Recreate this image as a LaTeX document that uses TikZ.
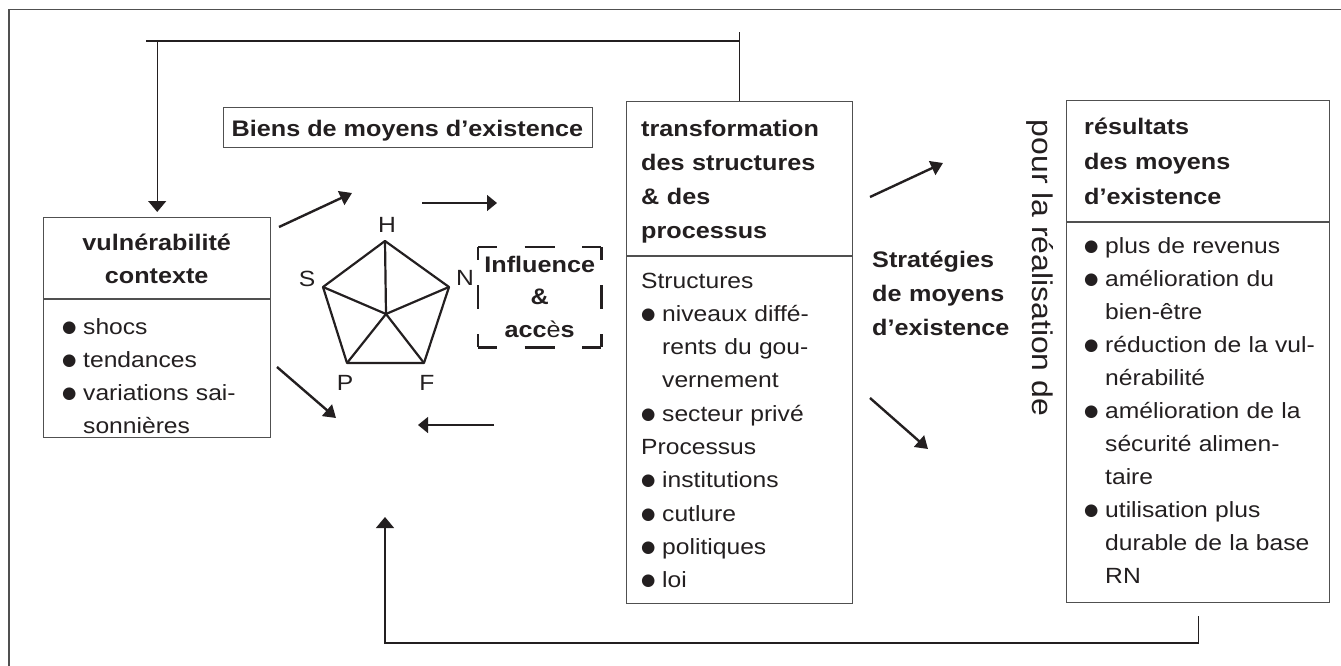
\documentclass[tikz,border=0pt]{standalone}
\usepackage{fontspec}
\setmainfont{Liberation Sans}[FakeStretch=1.12]
\newfontfamily\dotfont{DejaVu Sans}
\usetikzlibrary{arrows.meta}

\definecolor{ink}{RGB}{35,31,32}
\definecolor{rule}{RGB}{80,80,80}

\newcommand{\bul}{\makebox[21pt][l]{\raisebox{2pt}{\dotfont\fontsize{16.5}{16.5}\selectfont ●}}}
\newcommand{\ind}{\hspace*{21pt}}

\tikzset{
	box/.style={draw=rule, line width=1.4pt, inner sep=0pt, anchor=north west},
	cut/.style={draw=rule, line width=1.4pt},
	head/.style={inner sep=0pt, text=ink, font=\bfseries\fontsize{22.5}{34}\selectfont, align=left, text width=240pt},
	body/.style={inner sep=0pt, text=ink, font=\fontsize{22}{33.3}\selectfont, align=left, text width=240pt},
	label/.style={inner sep=0pt, text=ink, font=\fontsize{22}{22}\selectfont},
	link/.style={draw=ink, line width=1.4pt},
	flow/.style={draw=ink, line width=2.4pt, -{Triangle[length=12pt,width=15pt]}},
	thin flow/.style={draw=ink, line width=1.4pt, -{Triangle[length=10pt,width=16pt]}},
	penta/.style={draw=ink, line width=2.2pt, line join=round},
	hdash/.style={draw=ink, line width=2.8pt, dash pattern=on 19pt off 27.5pt on 30pt off 27.5pt on 19pt},
	vdash/.style={draw=ink, line width=2.8pt, dash pattern=on 13pt off 25pt on 24pt off 25pt on 13pt},
}

\begin{document}
\begin{tikzpicture}[x=1pt,y=1pt,yscale=-1,xscale=1]
	\useasboundingbox (0,0) rectangle (1341,666);
	\clip (0,0) rectangle (1341,666);
	
	%Shape: Rectangle (frame)
	\draw [draw=rule, line width=1.5pt] (9,9.5) rectangle (1400,720);
	
	%Shape: Rectangle (vulnerabilite)
	\node [box, minimum width=227pt, minimum height=220pt] (vul) at (43,217) {};
	\draw [cut] (43,299) -- (270,299);
	% Text Node
	\node [head, font=\bfseries\fontsize{22.5}{33}\selectfont, text width=227pt, align=center, anchor=base west] (vulhead) at (43,250) {vulnérabilité\\contexte};
	% Text Node
	\node [body, anchor=base west] (vulbody) at (62,334) {\bul shocs\\\bul tendances\\\bul variations sai-\\\ind sonnières};
	
	%Shape: Rectangle (biens)
	\node [box, minimum width=369pt, minimum height=40pt] (biens) at (223,107) {};
	% Text Node
	\node [label, font=\bfseries\fontsize{22.5}{22}\selectfont, anchor=base] (bienshead) at (407.5,136) {Biens de moyens d’existence};
	
	%Shape: Pentagon
	\coordinate (H) at (385,241);
	\coordinate (N) at (449,287);
	\coordinate (F) at (424,363);
	\coordinate (P) at (347,363);
	\coordinate (S) at (323,287);
	\coordinate (O) at (386,314);
	\draw [penta] (H) -- (N) -- (F) -- (P) -- (S) -- cycle;
	\foreach \v in {H,N,F,P,S}
		\draw [penta] (O) -- (\v);
	% Text Node
	\node [label] (labH) at (387,225) {H};
	\node [label] (labS) at (307,279) {S};
	\node [label] (labN) at (465,278) {N};
	\node [label] (labP) at (345,383) {P};
	\node [label] (labF) at (427,383) {F};
	
	%Shape: Dashed Rectangle (influence)
	\node [minimum width=123pt, minimum height=100pt, inner sep=0pt, anchor=north west] (infl) at (478,247) {};
	\draw [hdash] (infl.north west) -- (infl.north east);
	\draw [hdash] (infl.south west) -- (infl.south east);
	\draw [vdash] (infl.north west) -- (infl.south west);
	\draw [vdash] (infl.north east) -- (infl.south east);
	% Text Node
	\node [head, font=\bfseries\fontsize{22.5}{32.5}\selectfont, text width=123pt, align=center, anchor=base west] (infltext) at (478,272) {Influence\\\&\\acc{\mdseries è}s};
	
	%Shape: Rectangle (transformation)
	\node [box, minimum width=226pt, minimum height=502pt] (tr) at (626,101) {};
	\draw [cut] (626,256) -- (852,256);
	% Text Node
	\node [head, anchor=base west] (trhead) at (641,137) {transformation\\des structures\\\& des\\processus};
	% Text Node
	\node [body, anchor=base west] (trbody) at (641,288) {Structures\\\bul niveaux diffé-\\\ind rents du gou-\\\ind vernement\\\bul secteur privé\\Processus\\\bul institutions\\\bul cutlure\\\bul politiques\\\bul loi};
	
	% Text Node
	\node [head, anchor=base west, text width=160pt] (strat) at (872,267) {Stratégies\\de moyens\\d’existence};
	% Text Node
	\node [label, font=\fontsize{28.5}{28}\selectfont, rotate=-90] (pour) at (1040,268) {pour la réalisation de};
	
	%Shape: Rectangle (resultats)
	\node [box, minimum width=263pt, minimum height=502pt] (res) at (1066,100) {};
	\draw [cut] (1066,222) -- (1329,222);
	% Text Node
	\node [head, font=\bfseries\fontsize{22.5}{35}\selectfont, anchor=base west] (reshead) at (1084,135) {résultats\\des moyens\\d’existence};
	% Text Node
	\node [body, font=\fontsize{22}{33}\selectfont, anchor=base west] (resbody) at (1084,253) {\bul plus de revenus\\\bul amélioration du\\\ind bien-être\\\bul réduction de la vul-\\\ind nérabilité\\\bul amélioration de la\\\ind sécurité alimen-\\\ind taire\\\bul utilisation plus\\\ind durable de la base\\\ind RN};
	
	%Straight Lines (arrows)
	\coordinate (vulup) at (279,227);
	\coordinate (assetin) at (352,193);
	\coordinate (vuldown) at (277,367);
	\coordinate (assetlow) at (336,418);
	\coordinate (trin) at (422,203);
	\coordinate (trinend) at (497,203);
	\coordinate (trout) at (494,425);
	\coordinate (troutend) at (418,425);
	\coordinate (stratup) at (870,197);
	\coordinate (stratupend) at (943,163);
	\coordinate (stratdown) at (870,398);
	\coordinate (stratdownend) at (928,449);
	\draw [flow] (vulup) -- (assetin);
	\draw [flow] (vuldown) -- (assetlow);
	\draw [thin flow] (trin) -- (trinend);
	\draw [thin flow] (trout) -- (troutend);
	\draw [flow] (stratup) -- (stratupend);
	\draw [flow] (stratdown) -- (stratdownend);
	
	%Straight Lines (feedback top)
	\coordinate (fbtop) at (739,32);
	\coordinate (fbleft) at (146,41);
	\draw [link] (tr.north) -- (tr.north |- fbtop);
	\draw [link] (fbleft) -- (tr.north |- fbleft);
	\draw [link, -{Triangle[length=11pt,width=18pt]}, shorten >=5pt] (vul.north |- fbleft) -- (vul.north);
	
	%Straight Lines (feedback bottom)
	\coordinate (fbbot) at (385,643);
	\coordinate (fbtip) at (385,517);
	\draw [link, -{Triangle[length=11pt,width=18pt]}, shorten <=13pt] (res.south) -- (res.south |- fbbot) -- (fbbot) -- (fbtip);
\end{tikzpicture}
\end{document}
